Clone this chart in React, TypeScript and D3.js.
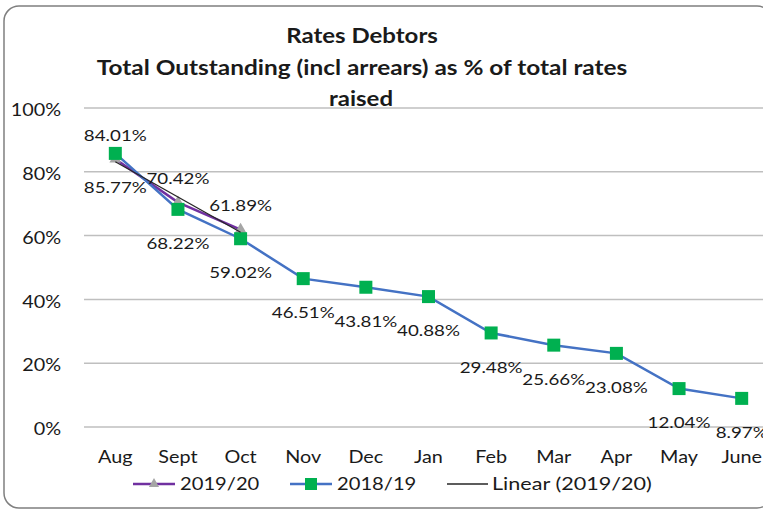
import React, { useLayoutEffect } from "react";
import * as d3 from "d3";

const categories = ["Aug", "Sept", "Oct", "Nov", "Dec", "Jan", "Feb", "Mar", "Apr", "May", "June"];
const values1819 = [85.77, 68.22, 59.02, 46.51, 43.81, 40.88, 29.48, 25.66, 23.08, 12.04, 8.97];
const values1920 = [84.01, 70.42, 61.89];
const yTicks = [0, 20, 40, 60, 80, 100];
const titleLines = ["Rates Debtors", "Total Outstanding (incl arrears) as % of total rates", "raised"];
const legendItems = ["2019/20", "2018/19", "Linear (2019/20)"];

const W = 763;
const H = 510;
const FONT = "Lato, 'Liberation Sans', Arial, sans-serif";

function Txt(props: {
  x: number; y: number; sx?: number; size: number; anchor?: string; weight?: string | number; children: React.ReactNode;
}) {
  const { x, y, sx = 1, size, anchor = "middle", weight = "normal", children } = props;
  return (
    <g transform={`translate(${x},${y}) scale(${sx},1)`}>
      <text
        x={0}
        y={0}
        textAnchor={anchor as any}
        dominantBaseline="central"
        fontFamily={FONT}
        fontSize={size}
        fontWeight={weight as any}
        fill="#1a1a1a"
      >
        {children}
      </text>
    </g>
  );
}

export default function App() {
  useLayoutEffect(() => {
    document.body.style.margin = "0";
    document.body.style.overflow = "hidden";
  }, []);

  const x = d3.scaleBand<string>().domain(categories).range([84, 773]).padding(0);
  const cx = (c: string) => (x(c) as number) + x.bandwidth() / 2;
  const y = d3.scaleLinear().domain([0, 100]).range([427, 108]);

  const line = d3
    .line<[string, number]>()
    .x((d) => cx(d[0]))
    .y((d) => y(d[1]));

  const d1819: [string, number][] = values1819.map((v, i) => [categories[i], v]);
  const d1920: [string, number][] = values1920.map((v, i) => [categories[i], v]);

  // linear trendline for 2019/20 (least squares on index 1..n)
  const n = values1920.length;
  const xs = values1920.map((_, i) => i + 1);
  const mx = d3.mean(xs) as number;
  const my = d3.mean(values1920) as number;
  const slope =
    (d3.sum(xs.map((xi, i) => (xi - mx) * (values1920[i] - my))) as number) /
    (d3.sum(xs.map((xi) => (xi - mx) * (xi - mx))) as number);
  const intercept = my - slope * mx;
  const trend: [string, number][] = [
    [categories[0], intercept + slope * 1],
    [categories[n - 1], intercept + slope * n],
  ];

  const tri = d3.symbol().type(d3.symbolTriangle).size(60)() as string;
  const triSmall = d3.symbol().type(d3.symbolTriangle).size(45)() as string;

  const fmt = (v: number) => v.toFixed(2) + "%";

  return (
    <svg width={W} height={H} style={{ display: "block" }}>
      <rect x={0} y={0} width={W} height={H} fill="#fff" />
      <rect x={4} y={6} width={768} height={502} rx={15} ry={15} fill="#fff" stroke="#7f7f7f" strokeWidth={1.5} />

      {/* title */}
      <Txt x={362} y={35} size={20} weight="bold" sx={1.2}>{titleLines[0]}</Txt>
      <Txt x={362} y={67} size={20} weight="bold" sx={1.22}>{titleLines[1]}</Txt>
      <Txt x={361} y={98} size={20} weight="bold" sx={1.2}>{titleLines[2]}</Txt>

      {/* gridlines */}
      {yTicks.map((t) => (
        <line key={t} x1={84} x2={773} y1={y(t)} y2={y(t)} stroke="#bfbfbf" strokeWidth={1.5} />
      ))}
      {yTicks.map((t) => (
        <Txt key={"yl" + t} x={61} y={y(t) + 1} size={18} anchor="end" sx={1.1}>{t + "%"}</Txt>
      ))}

      {/* category labels */}
      {categories.map((c) => (
        <Txt key={"c" + c} x={cx(c)} y={456} size={18} sx={1.1}>{c}</Txt>
      ))}

      {/* 2019/20 series */}
      <path d={line(d1920) as string} fill="none" stroke="#7030a0" strokeWidth={2.5} />
      {d1920.map((d) => (
        <path key={"t" + d[0]} d={tri} transform={`translate(${cx(d[0])},${y(d[1])})`} fill="#a5a5a5" />
      ))}

      {/* 2018/19 series */}
      <path d={line(d1819) as string} fill="none" stroke="#4472c4" strokeWidth={2.5} />
      {d1819.map((d) => (
        <rect key={"s" + d[0]} x={cx(d[0]) - 6.5} y={y(d[1]) - 6.5} width={13} height={13} fill="#00b050" />
      ))}

      {/* trendline */}
      <path d={line(trend) as string} fill="none" stroke="#262626" strokeWidth={1.3} />

      {/* data labels */}
      {d1819.map((d) => (
        <Txt key={"l18" + d[0]} x={cx(d[0])} y={y(d[1]) + 34} size={15} sx={1.25}>{fmt(d[1])}</Txt>
      ))}
      {d1920.map((d) => (
        <Txt key={"l19" + d[0]} x={cx(d[0])} y={y(d[1]) - 24} size={15} sx={1.25}>{fmt(d[1])}</Txt>
      ))}

      {/* legend */}
      <g>
        <line x1={133} x2={175} y1={484} y2={484} stroke="#7030a0" strokeWidth={2.5} />
        <path d={triSmall} transform="translate(154,484)" fill="#a5a5a5" />
        <Txt x={180} y={483} size={18} anchor="start" sx={1.12}>{legendItems[0]}</Txt>

        <line x1={290} x2={332} y1={484} y2={484} stroke="#4472c4" strokeWidth={2.5} />
        <rect x={305} y={478} width={12} height={12} fill="#00b050" />
        <Txt x={337} y={483} size={18} anchor="start" sx={1.12}>{legendItems[1]}</Txt>

        <line x1={447} x2={488} y1={484} y2={484} stroke="#262626" strokeWidth={1.3} />
        <Txt x={492} y={483} size={18} anchor="start" sx={1.2}>{legendItems[2]}</Txt>
      </g>
    </svg>
  );
}
